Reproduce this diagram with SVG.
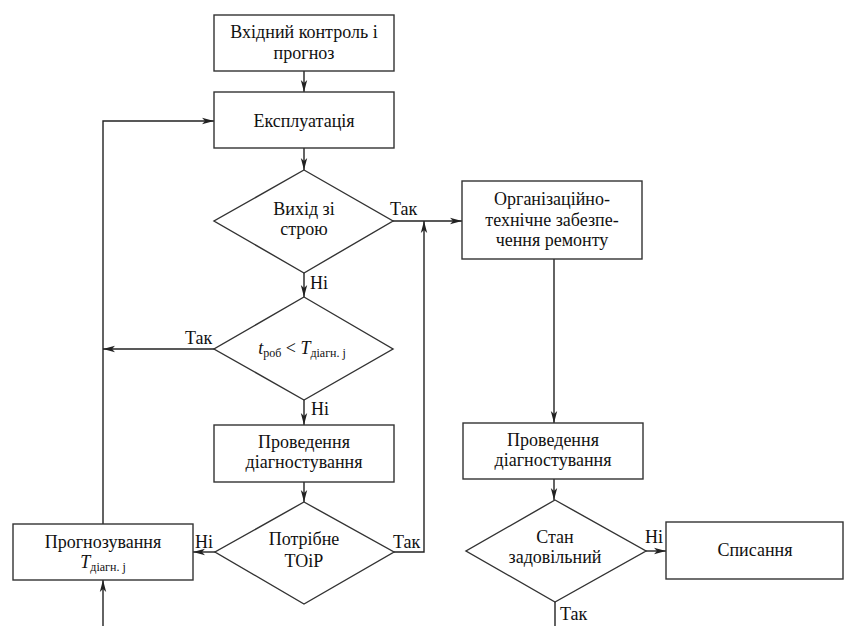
<svg xmlns="http://www.w3.org/2000/svg" width="844" height="626" viewBox="0 0 844 626">
<style>
.n{fill:#fff;stroke:#333;stroke-width:1.4}
text{font-family:'Liberation Serif','Times New Roman',serif;font-size:18px;fill:#111}
.t{text-anchor:middle}
.s{font-size:12px}
.c{fill:none;stroke:#222;stroke-width:1.4}
</style>
<defs>
<marker id="a" viewBox="0 0 12 8" refX="12" refY="4" markerWidth="12" markerHeight="8" markerUnits="userSpaceOnUse" orient="auto">
<path d="M0,0.8 L12,4 L0,7.2 L3,4 Z" fill="#222"/>
</marker>
</defs>
<rect width="844" height="626" fill="#fff"/>
<g id="connectors">
<path class="c" d="M304,71 V92" marker-end="url(#a)"/>
<path class="c" d="M304,148 V170" marker-end="url(#a)"/>
<path class="c" d="M304,273 V297" marker-end="url(#a)"/>
<path class="c" d="M393,221 H462" marker-end="url(#a)"/>
<path class="c" d="M214,349 H103" marker-end="url(#a)"/>
<path class="c" d="M304,400 V425" marker-end="url(#a)"/>
<path class="c" d="M304,482 V502" marker-end="url(#a)"/>
<path class="c" d="M215,552 H193" marker-end="url(#a)"/>
<path class="c" d="M394,552 H424 V221" marker-end="url(#a)"/>
<path class="c" d="M103,524 V121 H214" marker-end="url(#a)"/>
<path class="c" d="M103,626 V580" marker-end="url(#a)"/>
<path class="c" d="M554,259 V423" marker-end="url(#a)"/>
<path class="c" d="M554,479 V500" marker-end="url(#a)"/>
<path class="c" d="M646,551 H666" marker-end="url(#a)"/>
<path class="c" d="M555,602 V626"/>
<text x="390" y="215">Так</text>
<text x="310" y="289">Ні</text>
<text x="185" y="344">Так</text>
<text x="311" y="415">Ні</text>
<text x="195" y="548">Ні</text>
<text x="393" y="548">Так</text>
<text x="645" y="543">Ні</text>
<text x="560" y="620">Так</text>
</g>
<g id="n1">
<rect class="n" x="214" y="15" width="180" height="56"/>
<text class="t" x="304" y="38">Вхідний контроль і</text>
<text class="t" x="304" y="59">прогноз</text>
</g>
<g id="n2">
<rect class="n" x="214" y="92" width="180" height="56"/>
<text class="t" x="304" y="127">Експлуатація</text>
</g>
<g id="d1">
<polygon class="n" points="304,170 393,221 304,273 214,221"/>
<text class="t" x="304" y="215">Вихід зі</text>
<text class="t" x="304" y="235">строю</text>
</g>
<g id="d2">
<polygon class="n" points="304,297 393,349 304,400 214,349"/>
<text class="t" x="302" y="354"><tspan font-style="italic">t</tspan><tspan class="s" dy="3">роб</tspan><tspan dy="-3"> &lt; </tspan><tspan font-style="italic">T</tspan><tspan class="s" dy="3">діагн. j</tspan></text>
</g>
<g id="n3">
<rect class="n" x="214" y="425" width="180" height="57"/>
<text class="t" x="304" y="448">Проведення</text>
<text class="t" x="304" y="468">діагностування</text>
</g>
<g id="d3">
<polygon class="n" points="304,502 394,552 304,604 215,552"/>
<text class="t" x="304" y="545">Потрібне</text>
<text class="t" x="304" y="567">ТОіР</text>
</g>
<g id="n4">
<rect class="n" x="13" y="524" width="180" height="56"/>
<text class="t" x="103" y="548">Прогнозування</text>
<text class="t" x="103" y="568"><tspan font-style="italic">T</tspan><tspan class="s" dy="3">діагн. j</tspan></text>
</g>
<g id="n5">
<rect class="n" x="462" y="181" width="180" height="78"/>
<text class="t" x="552" y="205">Організаційно-</text>
<text class="t" x="552" y="226">технічне забезпе-</text>
<text class="t" x="552" y="246">чення ремонту</text>
</g>
<g id="n6">
<rect class="n" x="463" y="423" width="180" height="56"/>
<text class="t" x="553" y="446">Проведення</text>
<text class="t" x="553" y="466">діагностування</text>
</g>
<g id="d4">
<polygon class="n" points="555,500 646,551 555,602 466,551"/>
<text class="t" x="555" y="543">Стан</text>
<text class="t" x="555" y="563">задовільний</text>
</g>
<g id="n7">
<rect class="n" x="666" y="522" width="177" height="57"/>
<text class="t" x="755" y="556">Списання</text>
</g>
</svg>
